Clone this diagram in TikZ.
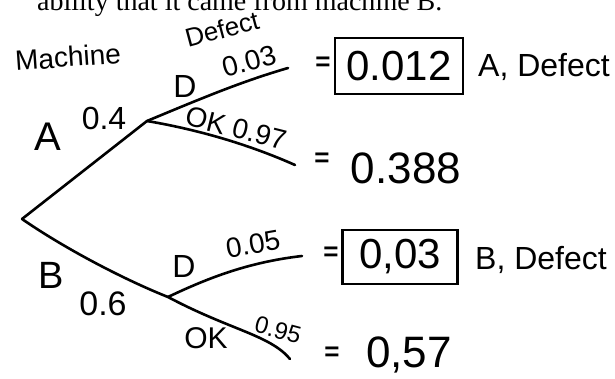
\documentclass[tikz,border=0pt]{standalone}
\usepackage{fontspec}
\setmainfont{Liberation Serif}
\newfontfamily\handfont{Liberation Sans}
\usetikzlibrary{calc,positioning}

\begin{document}
\begin{tikzpicture}[
    x=1pt, y=-1pt,
    every node/.style={inner sep=0pt},
    hand/.style={font=\handfont\fontsize{#1}{#1}\selectfont},
    hand/.default=30,
    equals/.style={font=\handfont\bfseries\fontsize{26}{26}\selectfont},
    branch/.style={line width=2.6pt, line cap=round, line join=round},
    result/.style={draw, line width=2.2pt, minimum width=#1, minimum height=56pt}
]
\useasboundingbox (0,0) rectangle (615,379);

% Line of the question, cut off at the top
\node[anchor=base west, font=\fontsize{28}{28}\selectfont] (hdr) at (37,11)
    {ability that it came from machine B.};

% Column headings
\node[hand=28, rotate=4] (mach) at (68,57) {Machine};
\node[hand=26, rotate=15] (dfct) at (222,29) {Defect};

% Points of the tree
\coordinate (root) at (22,219);
\coordinate (A) at (147,121);
\coordinate (B) at (168,297);
\coordinate (AD) at (288,68);
\coordinate (AOK) at (295,165);
\coordinate (BD) at (302,256);
\coordinate (BOK) at (290,359);

% Branches
\draw[branch] (root) -- (A);
\draw[branch] (root) .. controls (70,252) and (130,282) .. (B);
\draw[branch] (A) .. controls (200,99) and (240,82) .. (AD);
\draw[branch] (A) .. controls (200,130) and (250,145) .. (AOK);
\draw[branch] (B) .. controls (210,277) and (250,262) .. (BD);
\draw[branch] (B) .. controls (230,330) and (270,335) .. (BOK);

% First level labels
\node[hand=40] (lA) at (48,137) {A};
\node[hand=32] (pA) at (104,118) {0.4};
\node[hand=38] (lB) at (51,275) {B};
\node[hand=34] (pB) at (103,304) {0.6};

% Second level labels
\node[hand=32] (lAD) at (185,86) {D};
\node[hand=28, rotate=15] (pAD) at (249,61) {0.03};
\node[hand=28, rotate=-14] (pAOK) at (236,128) {OK 0.97};
\node[hand=32] (lBD) at (184,266) {D};
\node[hand=28, rotate=10] (pBD) at (253,244) {0.05};
\node[hand=30] (lBOK) at (206,338) {OK};
\node[hand=24, rotate=-15] (pBOK) at (278,330) {0.95};

% Products
\node[equals] (eqAD) at (323,64) {=};
\node[hand=42, result=128pt] (rAD) at (399,66) {0.012};
\node[hand=32] (tAD) at (544,67) {A, Defect};

\node[equals] (eqAOK) at (322,160) {=};
\node[hand=44] (rAOK) at (406,168) {0.388};

\node[equals] (eqBD) at (331,254) {=};
\node[hand=42, result=115pt, minimum height=54pt] (rBD) at (400,257) {0,03};
\node[hand=32] (tBD) at (541,260) {B, Defect};

\node[equals] (eqBOK) at (332,354) {=};
\node[hand=44] (rBOK) at (409,355) {0,57};

\end{tikzpicture}
\end{document}
